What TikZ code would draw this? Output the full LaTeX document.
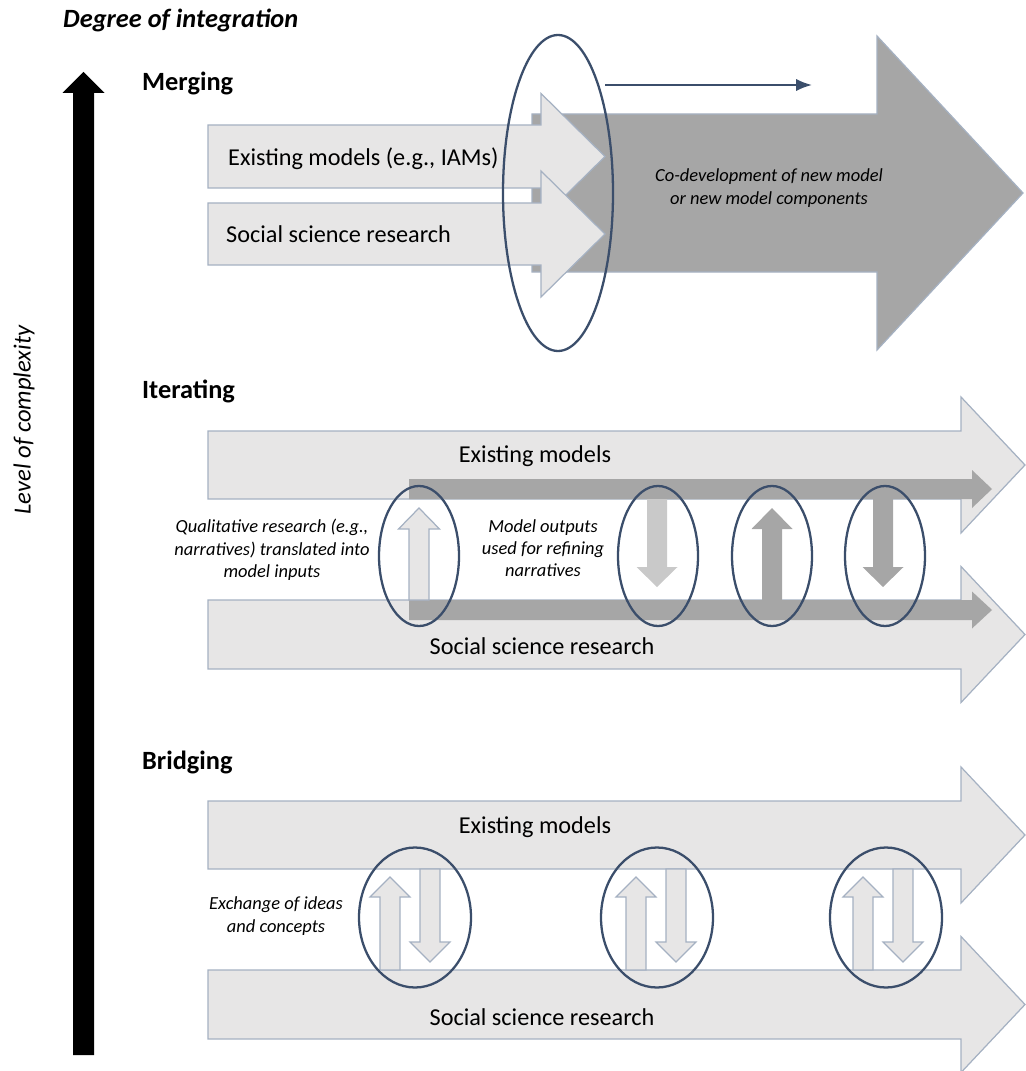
\documentclass[tikz,border=0pt]{standalone}
\usepackage{fontspec}
\setmainfont{Carlito}
\usetikzlibrary{calc}
\usetikzlibrary{arrows.meta}
\definecolor{barfill}{RGB}{231,230,230}
\definecolor{baredge}{RGB}{165,177,194}
\definecolor{darkfill}{RGB}{166,166,166}
\definecolor{midfill}{RGB}{201,201,201}
\definecolor{ringblue}{RGB}{59,78,107}
\newcommand{\blockarrowh}[7]{\draw[#1] (#2,#5-#6) -- (#3,#5-#6) -- (#3,#5-#7) -- (#4,#5) -- (#3,#5+#7) -- (#3,#5+#6) -- (#2,#5+#6) -- cycle;}
\newcommand{\blockarrowv}[7]{\draw[#1] (#2-#6,#3) -- (#2-#6,#4) -- (#2-#7,#4) -- (#2,#5) -- (#2+#7,#4) -- (#2+#6,#4) -- (#2+#6,#3) -- cycle;}

\begin{document}
\begin{tikzpicture}[
		x=0.02cm, y=-0.02cm,
		>=latex,
		band/.style={fill=barfill, draw=baredge, line width=0.7pt},
		merged/.style={fill=darkfill, draw=baredge, line width=0.7pt},
		flow/.style={fill=darkfill, draw=none},
		softflow/.style={fill=midfill, draw=none},
		ring/.style={draw=ringblue, line width=1.3pt},
		axis/.style={fill=black, draw=none},
		heading/.style={font=\bfseries\fontsize{15}{18}\selectfont, anchor=base west},
		bandtext/.style={font=\fontsize{13.8}{16}\selectfont, anchor=base},
		remark/.style={font=\itshape\fontsize{10.5}{12.7}\selectfont, align=center},
	]
	\useasboundingbox (0,0) rectangle (1025,1071);
	\blockarrowv{axis}{83.5}{1055}{93}{72}{10.5}{21}
	\node[font=\bfseries\itshape\fontsize{15}{18}\selectfont, anchor=base west] (degree) at (57,28) {Degree of integration};
	\node[font=\itshape\fontsize{14}{17}\selectfont, rotate=90] (complexity) at (24,420) {Level of complexity};

	\node[heading] (merging) at (136,91) {Merging};
	\blockarrowh{merged}{532}{877}{1023}{193}{79}{157}
	\blockarrowh{band}{208}{541}{605}{156.5}{31.5}{63}
	\blockarrowh{band}{208}{541}{605}{234}{31}{63}
	\node[bandtext, anchor=base west] (mmodels) at (222,166) {Existing models (e.g., IAMs)};
	\node[bandtext, anchor=base west] (msocial) at (220,242) {Social science research};
	\node[remark] (codev) at (769,188) {Co-development of new model\\or new model components};
	\coordinate (flowstart) at (605,85);
	\coordinate (flowend) at (812,85);
	\draw[ringblue, line width=1.2pt, -{Latex[length=9pt,width=7pt]}] (flowstart) -- (flowend);
	\draw[ring] (558,193) ellipse [x radius=55, y radius=158];

	\node[heading] (iterating) at (136,398) {Iterating};
	\blockarrowh{band}{208}{961}{1025}{465}{34}{68}
	\blockarrowh{band}{208}{961}{1025}{634.5}{34.5}{68}
	\blockarrowh{flow}{409}{972}{992}{489}{10}{19}
	\blockarrowh{flow}{409}{972}{992}{610}{10}{18.5}
	\blockarrowv{band}{419}{600}{529}{508}{10}{20.5}
	\blockarrowv{softflow}{657}{499}{567}{587}{10}{20.5}
	\blockarrowv{flow}{772}{600}{529}{508}{10}{20.5}
	\blockarrowv{flow}{883}{499}{567}{587}{10}{20.5}
	\draw[ring] (419,556) ellipse [x radius=40, y radius=70];
	\draw[ring] (658,556) ellipse [x radius=40, y radius=70];
	\draw[ring] (772,556) ellipse [x radius=40, y radius=70];
	\draw[ring] (885,556) ellipse [x radius=40, y radius=70];
	\node[bandtext] (imodels) at (535,462) {Existing models};
	\node[bandtext] (isocial) at (542,654) {Social science research};
	\node[remark] (qualitative) at (272,550) {Qualitative research (e.g.,\\narratives) translated into\\model inputs};
	\node[remark] (outputs) at (543,548) {Model outputs\\used for refining\\narratives};

	\node[heading] (bridging) at (136,769) {Bridging};
	\blockarrowh{band}{208}{961}{1025}{835}{34}{68}
	\blockarrowh{band}{208}{961}{1025}{1004.5}{34.5}{68}
	\blockarrowv{band}{390}{970}{897}{877}{10}{20}
	\blockarrowv{band}{430}{869}{942}{962}{10}{20}
	\blockarrowv{band}{636}{970}{897}{877}{10}{20}
	\blockarrowv{band}{676}{869}{942}{962}{10}{20}
	\blockarrowv{band}{863}{970}{897}{877}{10}{20}
	\blockarrowv{band}{903}{869}{942}{962}{10}{20}
	\draw[ring] (415,917.5) ellipse [x radius=56, y radius=70];
	\draw[ring] (657,917.5) ellipse [x radius=56, y radius=70];
	\draw[ring] (886,917.5) ellipse [x radius=56, y radius=70];
	\node[bandtext] (bmodels) at (535,833) {Existing models};
	\node[bandtext] (bsocial) at (542,1025) {Social science research};
	\node[remark] (exchange) at (276,916) {Exchange of ideas\\and concepts};
\end{tikzpicture}
\end{document}
